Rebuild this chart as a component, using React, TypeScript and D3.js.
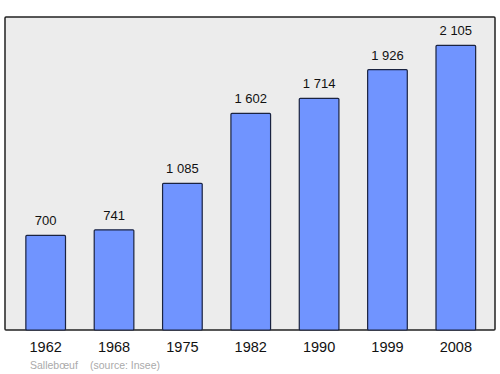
import React from "react";
import * as d3 from "d3";

const years = ["1962", "1968", "1975", "1982", "1990", "1999", "2008"];
const population = [700, 741, 1085, 1602, 1714, 1926, 2105];
const valueLabels = ["700", "741", "1 085", "1 602", "1 714", "1 926", "2 105"];
const townName = "Sallebœuf";
const sourceText = "(source: Insee)";

export default function App() {
  const W = 500, H = 374;
  const left = 5, right = 495, top = 17, bottom = 330;
  const x = d3.scaleBand<string>().domain(years).range([11.5, 490]).paddingInner(0.42).paddingOuter(0.21);
  const y = d3.scaleLinear().domain([0, d3.max(population)! * 1.1]).range([bottom, top]);
  return (
    <svg width={W} height={H} style={{ position: "absolute", left: 0, top: 0 }} fontFamily="'Liberation Sans', Arial, sans-serif">
      <rect x={left} y={top} width={right - left} height={bottom - top} fill="#ececec" stroke="#222" strokeWidth={1.5} rx={1} />
      {years.map((yr, i) => {
        const bx = x(yr)!;
        const bw = x.bandwidth();
        const by = y(population[i]);
        return (
          <g key={yr}>
            <rect x={bx} y={by} width={bw} height={bottom - by} fill="#7094ff" stroke="#1a2340" strokeWidth={1.2} rx={1} />
            <text x={bx + bw / 2} y={by - 10} textAnchor="middle" fontSize={13} fill="#111">{valueLabels[i]}</text>
            <text x={bx + bw / 2} y={352} textAnchor="middle" fontSize={14.5} fill="#111">{yr}</text>
          </g>
        );
      })}
      <text x={30} y={369} fontSize={10.5} fill="#aaa">{townName}</text>
      <text x={90} y={369} fontSize={10.5} fill="#aaa">{sourceText}</text>
    </svg>
  );
}
